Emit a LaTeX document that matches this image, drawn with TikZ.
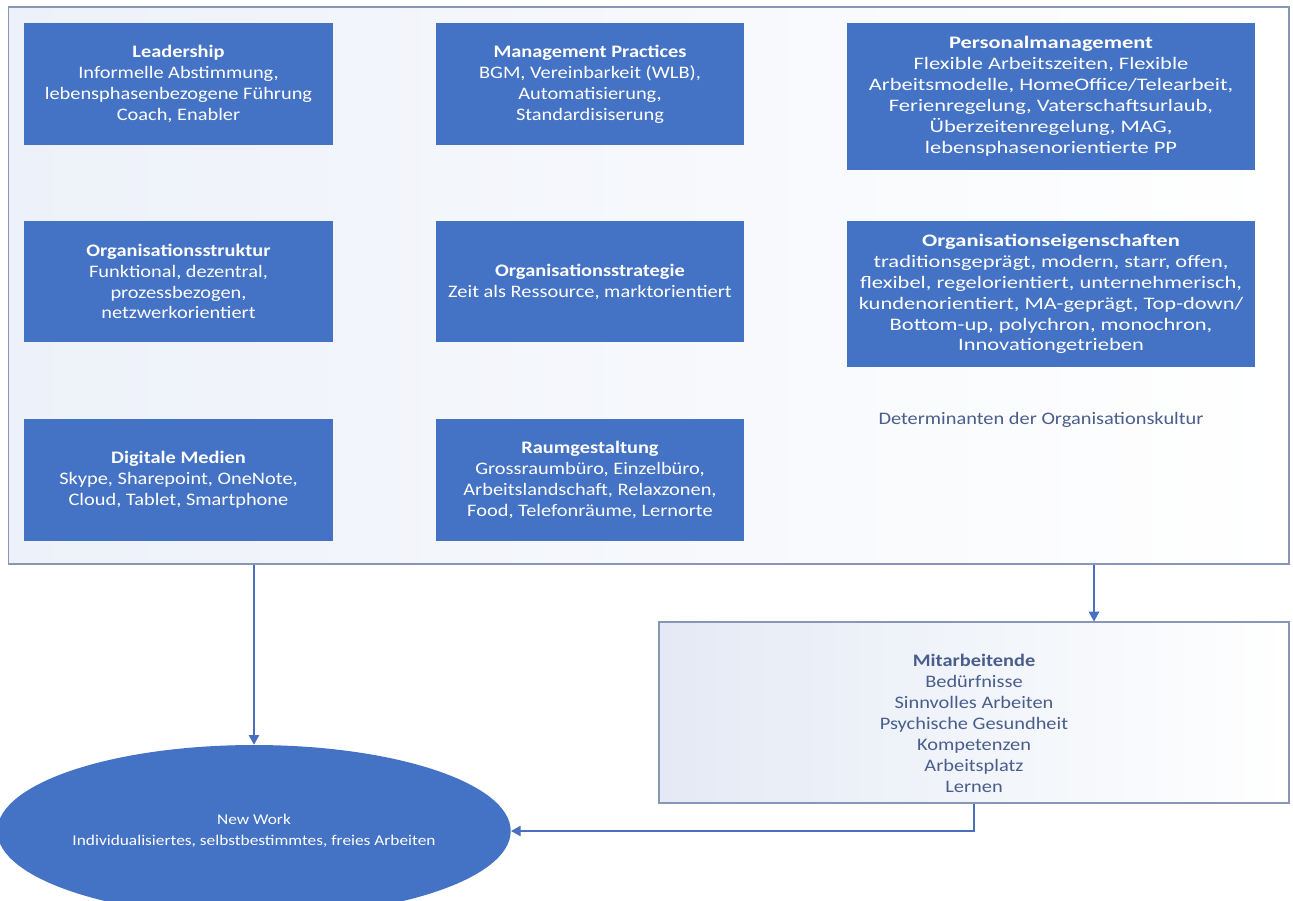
\documentclass[tikz,border=0pt]{standalone}
\usepackage{fontspec}
\setmainfont{Carlito}[FakeStretch=1.16]
\newfontfamily\widefont{Carlito}[FakeStretch=1.28]
\usepackage{tikz}
\usetikzlibrary{arrows.meta}
\usetikzlibrary{shapes.geometric, positioning}
\usetikzlibrary{calc}
\usepackage{xcolor}

\definecolor{boxblue}{HTML}{4472C4}
\definecolor{lineblue}{HTML}{4A6FBF}
\definecolor{framegray}{HTML}{8797B5}
\definecolor{paleblue}{HTML}{EDF1F9}
\definecolor{mablue}{HTML}{E4EAF5}
\definecolor{slate}{HTML}{4A5E8C}

\begin{document}
\begin{tikzpicture}[
  x=0.02cm, y=-0.02cm,
  factor/.style={rectangle, fill=boxblue, text=white, align=center, inner sep=2pt,
    minimum width=6.18cm, minimum height=2.44cm, font=\fontsize{10}{11.9}\selectfont},
  widefactor/.style={factor, inner ysep=0pt, minimum width=8.16cm, minimum height=2.93cm,
    font=\widefont\fontsize{10}{11.9}\selectfont},
  conn/.style={draw=lineblue, line width=0.6pt, -{Triangle[length=5.5pt, width=6pt]}}
]
\useasboundingbox (0,0) rectangle (1293,901);

% Frame
\node[rectangle, draw=framegray, line width=0.7pt, left color=paleblue, right color=white,
  minimum width=25.62cm, minimum height=11.14cm] (frame) at (648.5,285.5) {};

% Nodes
\node[factor] (lead) at (178.5,84) {\textbf{Leadership}\\Informelle Abstimmung,\\lebensphasenbezogene Führung\\Coach, Enabler};
\node[factor] (mgmt) at (590,84) {\textbf{Management Practices}\\BGM, Vereinbarkeit (WLB),\\Automatisierung,\\Standardisiserung};
\node[widefactor] (pers) at (1051,96.5) {\textbf{Personalmanagement}\\Flexible Arbeitszeiten, Flexible\\Arbeitsmodelle, HomeOffice/Telearbeit,\\Ferienregelung, Vaterschaftsurlaub,\\Überzeitenregelung, MAG,\\lebensphasenorientierte PP};

\node[factor] (struk) at (178.5,281.5) {\textbf{Organisationsstruktur}\\Funktional, dezentral,\\prozessbezogen,\\netzwerkorientiert};
\node[factor] (strat) at (590,281.5) {\textbf{Organisationsstrategie}\\Zeit als Ressource, marktorientiert};
\node[widefactor] (eigen) at (1051,294) {\textbf{Organisationseigenschaften}\\traditionsgeprägt, modern, starr, offen,\\flexibel, regelorientiert, unternehmerisch,\\kundenorientiert, MA-geprägt, Top-down/\\Bottom-up, polychron, monochron,\\Innovationgetrieben};

\node[factor] (medien) at (178.5,480) {\textbf{Digitale Medien}\\Skype, Sharepoint, OneNote,\\Cloud, Tablet, Smartphone};
\node[factor] (raum) at (590,480) {\textbf{Raumgestaltung}\\Grossraumbüro, Einzelbüro,\\Arbeitslandschaft, Relaxzonen,\\Food, Telefonräume, Lernorte};

\node[text=slate, font=\fontsize{10}{11.9}\selectfont] (kultur) at (1041,420) {Determinanten der Organisationskultur};

% Mitarbeitende box, text sits a little low
\node[rectangle, draw=framegray, line width=0.7pt, left color=mablue, right color=white,
  minimum width=12.6cm, minimum height=3.62cm] (ma) at (974,712.5) {};
\node[text=slate, align=center, font=\fontsize{10}{11.9}\selectfont] (matext) at ($(ma)+(0,11)$)
  {\textbf{Mitarbeitende}\\Bedürfnisse\\Sinnvolles Arbeiten\\Psychische Gesundheit\\Kompetenzen\\Arbeitsplatz\\Lernen};

\node[ellipse, fill=boxblue, text=white, align=center, inner sep=0pt,
  minimum width=9.84cm, minimum height=3.44cm,
  font=\fontsize{8.5}{11.9}\selectfont] (newwork) at (254,831)
  {New Work\\Individualisiertes, selbstbestimmtes, freies Arbeiten};

% Connections
\draw[conn] (frame.south -| newwork.north) -- (newwork.north);
\draw[conn] (frame.south -| {$(ma.north)+(120,0)$}) -- ($(ma.north)+(120,0)$);
\draw[conn] (ma.south) |- (newwork.east);

\end{tikzpicture}
\end{document}
